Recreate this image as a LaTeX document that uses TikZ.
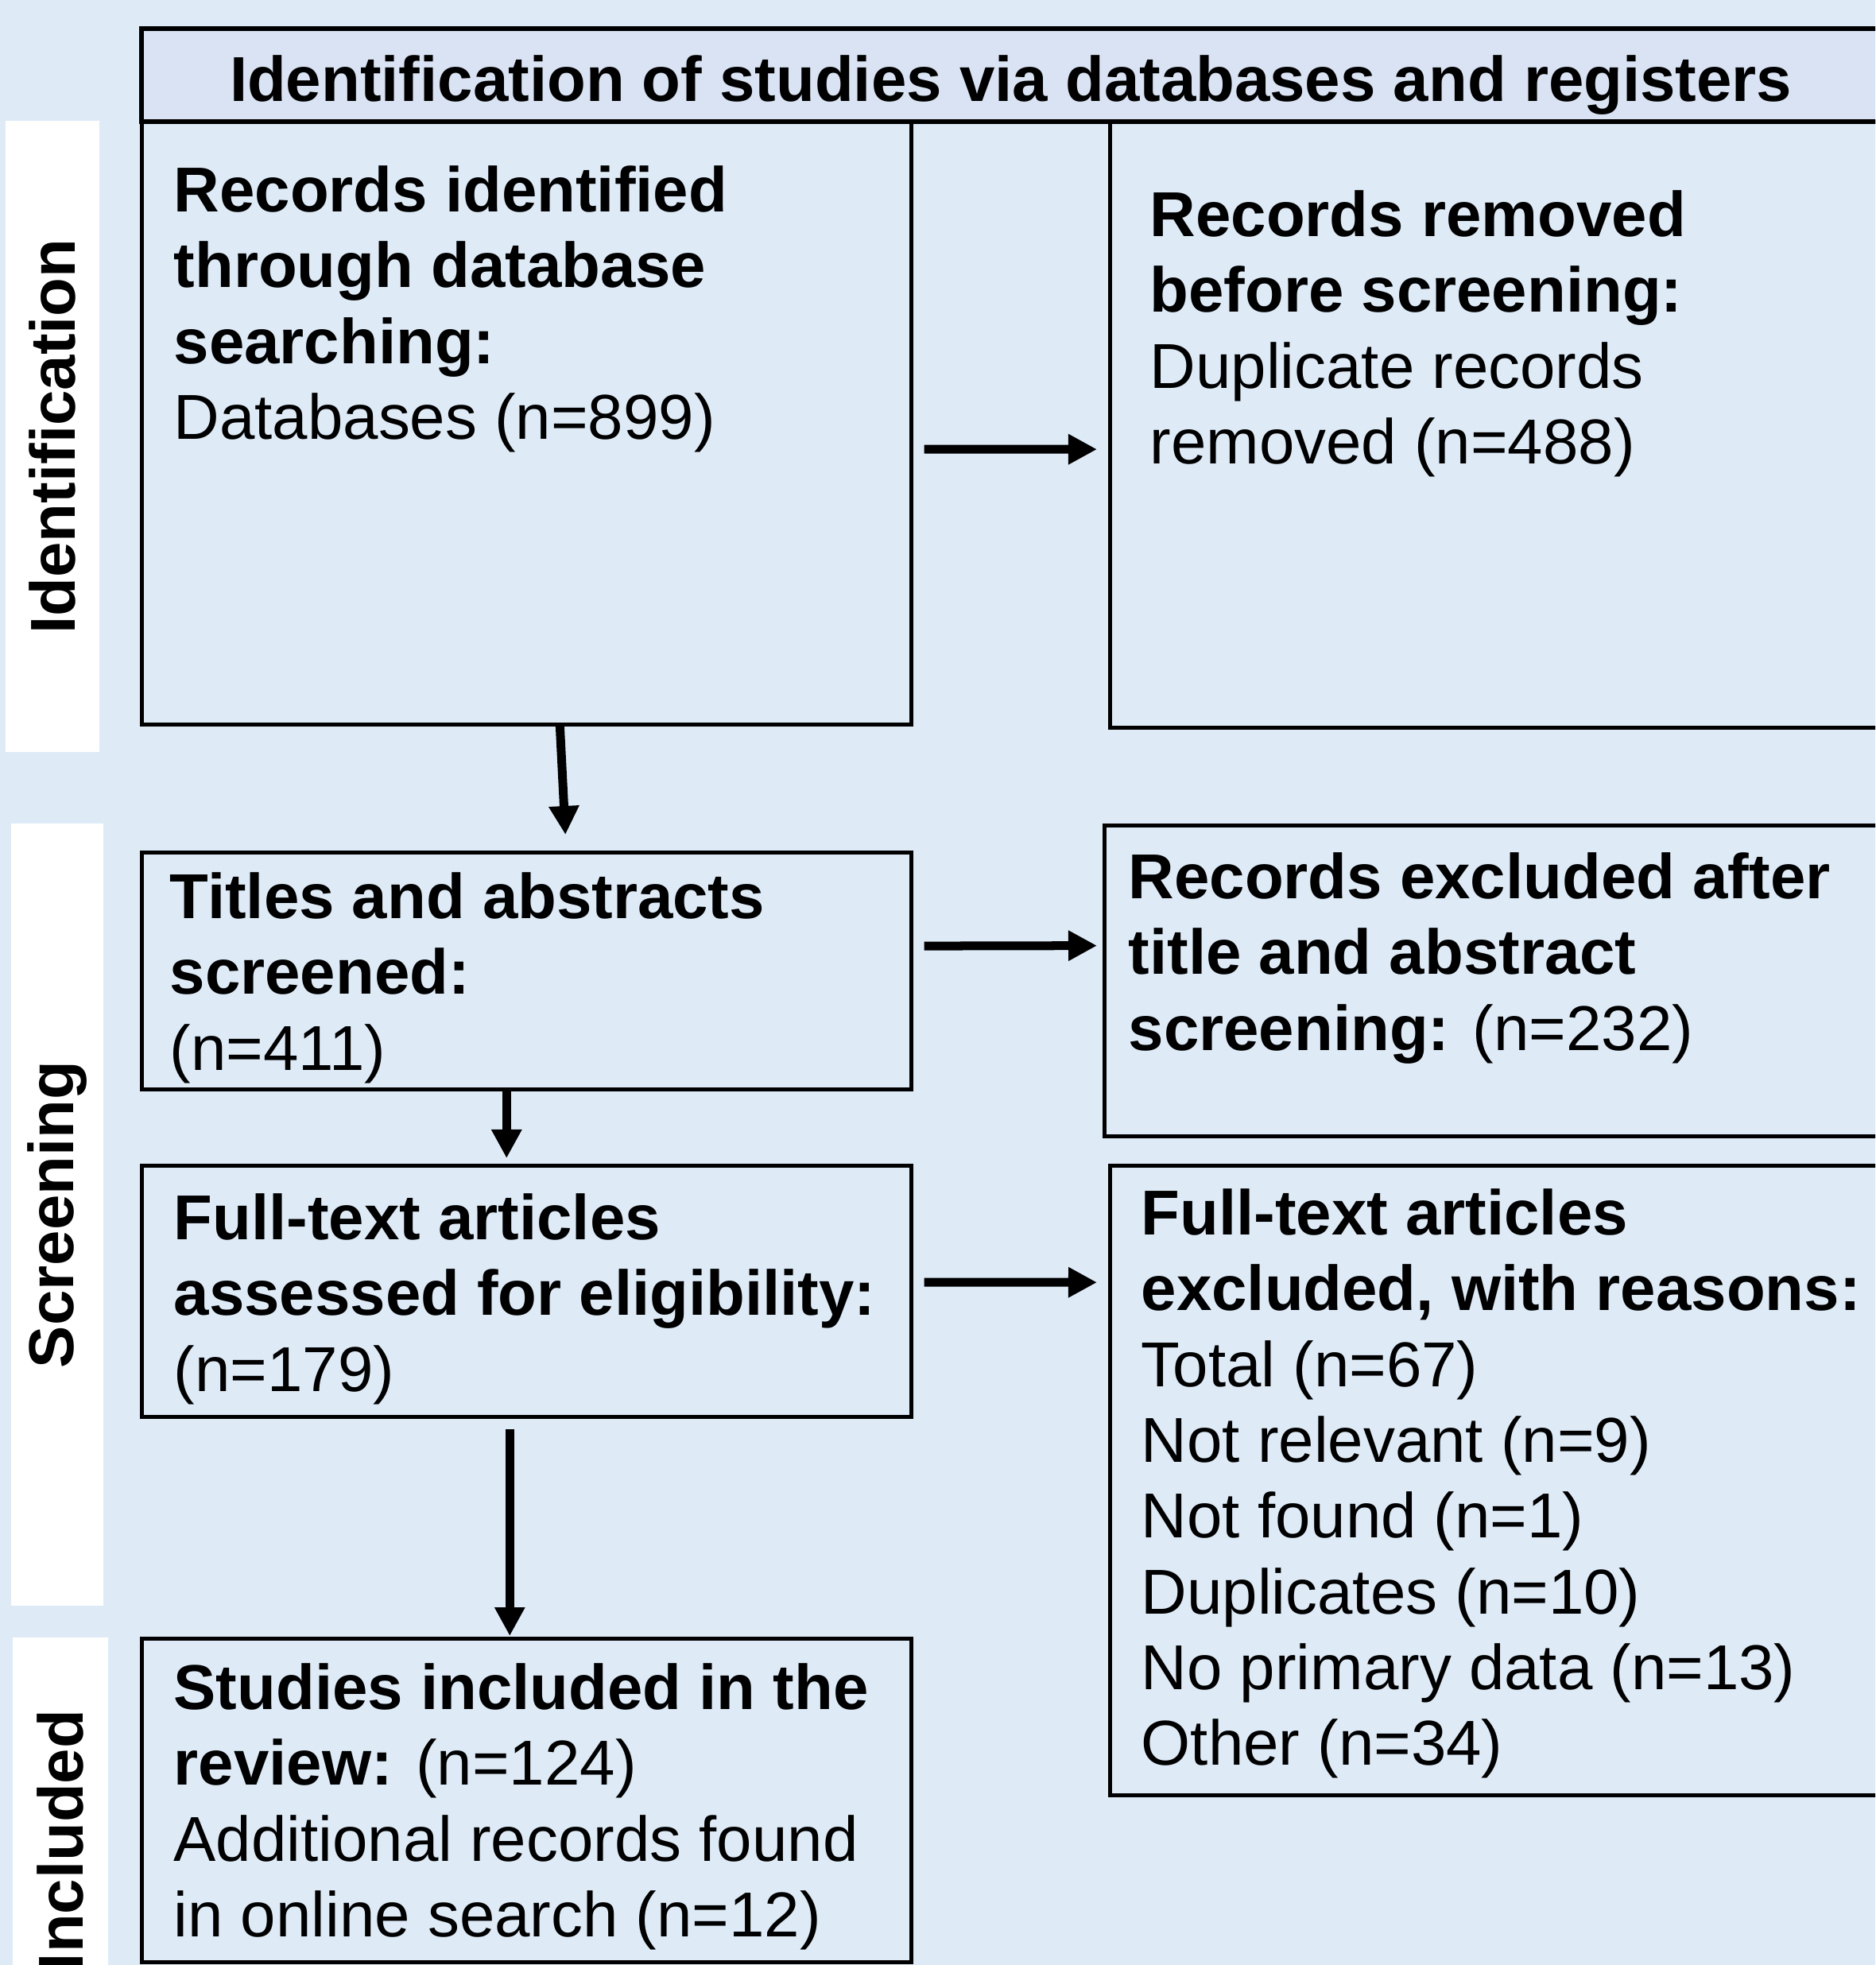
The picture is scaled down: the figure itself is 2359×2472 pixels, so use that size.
\documentclass[tikz,border=0pt]{standalone}
\usepackage{fontspec}
\setmainfont{Liberation Sans}
\usetikzlibrary{arrows.meta}
\definecolor{pagebg}{RGB}{222,235,247}
\definecolor{headbg}{RGB}{218,227,243}
\newcommand{\boxfont}{\fontsize{22.7}{27.1}\selectfont}

\begin{document}
\begin{tikzpicture}[x=0.01cm, y=-0.01cm,
    box/.style={draw, line width=0.05cm, fill=pagebg, anchor=north west, inner sep=0pt, outer sep=0pt},
    phase/.style={fill=white, rotate=90, inner sep=0pt, font=\boxfont\bfseries},
    txt/.style={anchor=north west, inner sep=0pt, align=left, font=\boxfont},
    flow/.style={line width=0.11cm, -{Triangle[length=0.36cm,width=0.36cm]}}]

    \clip (0,0) rectangle (2359,2472);
    \fill[pagebg] (0,0) rectangle (2359,2472);

    % phases down the left side
    \node[phase, minimum width=7.93cm, minimum height=1.17cm] (phid) at (66,549) {Identification};
    \node[phase, minimum width=9.83cm, minimum height=1.15cm] (phscr) at (72,1528) {Screening};
    \node[phase, minimum width=5.10cm, minimum height=1.20cm] (phinc) at (76,2315) {Included};

    % header
    \node[box, line width=0.06cm, fill=headbg, minimum width=21.86cm, minimum height=1.17cm] (head) at (178,36) {};
    \node[anchor=base, inner sep=0pt, font=\boxfont\bfseries] (headtxt) at ([shift={(0,-26)}]head.south)
        {Identification of studies via databases and registers};

    % boxes
    \node[box, minimum width=9.68cm, minimum height=7.58cm] (dbrec) at (178,153) {};
    \node[box, minimum width=9.74cm, minimum height=7.62cm] (dupl) at (1396,153) {};
    \node[box, minimum width=9.68cm, minimum height=2.98cm] (tiab) at (178,1072) {};
    \node[box, minimum width=9.81cm, minimum height=3.91cm] (tiabex) at (1389,1038) {};
    \node[box, minimum width=9.68cm, minimum height=3.16cm] (fulltxt) at (178,1466) {};
    \node[box, minimum width=9.74cm, minimum height=7.92cm] (fullex) at (1396,1466) {};
    \node[box, minimum width=9.68cm, minimum height=4.07cm] (incl) at (178,2061) {};

    % box texts
    \node[txt] (dbrectxt) at ([shift={(40,55)}]dbrec.north west)
        {\textbf{Records identified}\\\textbf{through database}\\\textbf{searching:}\\Databases (n=899)};
    \node[txt] (dupltxt) at ([shift={(50,86)}]dupl.north west)
        {\textbf{Records removed}\\\textbf{before screening:}\\Duplicate records\\removed (n=488)};
    \node[txt] (tiabtxt) at ([shift={(35,25)}]tiab.north west)
        {\textbf{Titles and abstracts}\\\textbf{screened:}\\(n=411)};
    \node[txt] (tiabextxt) at ([shift={(30,34)}]tiabex.north west)
        {\textbf{Records excluded after}\\\textbf{title and abstract}\\\textbf{screening:} (n=232)};
    \node[txt] (fulltxttxt) at ([shift={(40,35)}]fulltxt.north west)
        {\textbf{Full-text articles}\\\textbf{assessed for eligibility:}\\(n=179)};
    \node[txt] (fullextxt) at ([shift={(39,29)}]fullex.north west)
        {\textbf{Full-text articles}\\\textbf{excluded, with reasons:}\\Total (n=67)\\Not relevant (n=9)\\Not found (n=1)\\Duplicates (n=10)\\No primary data (n=13)\\Other (n=34)};
    \node[txt] (incltxt) at ([shift={(40,31)}]incl.north west)
        {\textbf{Studies included in the}\\\textbf{review:} (n=124)\\Additional records found\\in online search (n=12)};

    % arrows
    \draw[flow] ([shift={(16,33)}]dbrec.east) -- ([shift={(-16,31)}]dupl.west);
    \draw[flow] ([shift={(16,-31)}]tiab.east) -- ([shift={(-9,-44)}]tiabex.west);
    \draw[flow] ([shift={(16,-11)}]fulltxt.east) -- ([shift={(-16,-249)}]fullex.west);
    \draw[flow] ([shift={(42,0)}]dbrec.south) -- ([shift={(49,-22)}]tiab.north);
    \draw[flow] ([shift={(-25,0)}]tiab.south) -- ([shift={(-25,-9)}]fulltxt.north);
    \draw[flow] ([shift={(-21,16)}]fulltxt.south) -- ([shift={(-21,-3)}]incl.north);
\end{tikzpicture}
\end{document}
